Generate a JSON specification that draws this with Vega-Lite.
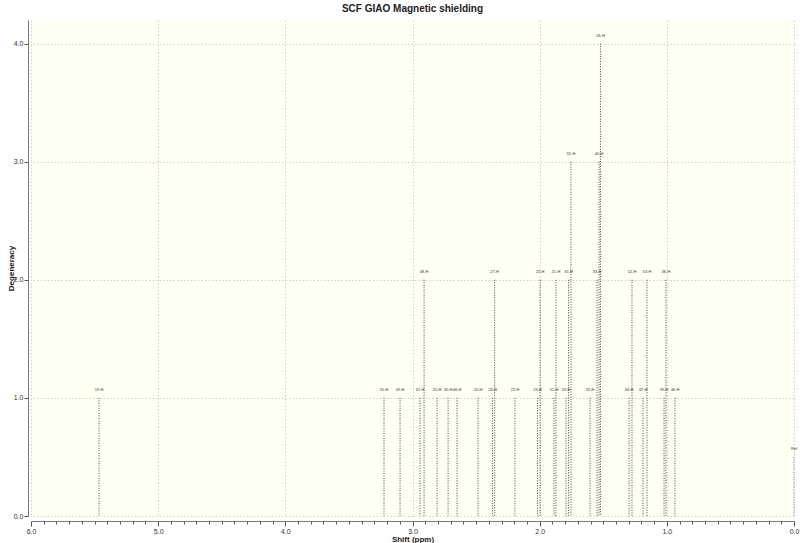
{
  "$schema": "https://vega.github.io/schema/vega-lite/v6.json",
  "width": 763,
  "height": 496,
  "autosize": {"type": "none"},
  "padding": {"left": 31, "top": 20, "right": 6, "bottom": 27},
  "background": "white",
  "title": {"text": "SCF GIAO Magnetic shielding", "fontSize": 10, "font": "Liberation Sans", "fontWeight": "bold", "offset": 6, "color": "#222"},
  "config": {"view": {"fill": "#fffff2", "stroke": null}, "font": "Liberation Sans"},
  "data": {"values": [
    {"label": "19-H", "ppm": 5.465, "deg": 1, "kind": "H"},
    {"label": "50-H", "ppm": 3.224, "deg": 1, "kind": "H"},
    {"label": "49-H", "ppm": 3.098, "deg": 1, "kind": "H"},
    {"label": "47-H", "ppm": 2.941, "deg": 1, "kind": "H"},
    {"label": "48-H", "ppm": 2.909, "deg": 2, "kind": "H"},
    {"label": "25-H", "ppm": 2.807, "deg": 1, "kind": "H"},
    {"label": "30-H", "ppm": 2.72, "deg": 1, "kind": "H"},
    {"label": "46-H", "ppm": 2.65, "deg": 1, "kind": "H"},
    {"label": "20-H", "ppm": 2.485, "deg": 1, "kind": "H"},
    {"label": "28-H", "ppm": 2.371, "deg": 1, "kind": "H"},
    {"label": "27-H", "ppm": 2.354, "deg": 2, "kind": "H"},
    {"label": "22-H", "ppm": 2.194, "deg": 1, "kind": "H"},
    {"label": "24-H", "ppm": 2.017, "deg": 1, "kind": "H"},
    {"label": "23-H", "ppm": 1.997, "deg": 2, "kind": "H"},
    {"label": "51-H", "ppm": 1.887, "deg": 1, "kind": "H"},
    {"label": "21-H", "ppm": 1.872, "deg": 2, "kind": "H"},
    {"label": "29-H", "ppm": 1.793, "deg": 1, "kind": "H"},
    {"label": "31-H", "ppm": 1.773, "deg": 2, "kind": "H"},
    {"label": "32-H", "ppm": 1.754, "deg": 3, "kind": "H"},
    {"label": "35-H", "ppm": 1.604, "deg": 1, "kind": "H"},
    {"label": "33-H", "ppm": 1.549, "deg": 2, "kind": "H"},
    {"label": "40-H", "ppm": 1.533, "deg": 3, "kind": "H"},
    {"label": "26-H", "ppm": 1.522, "deg": 4, "kind": "H"},
    {"label": "34-H", "ppm": 1.297, "deg": 1, "kind": "H"},
    {"label": "52-H", "ppm": 1.274, "deg": 2, "kind": "H"},
    {"label": "37-H", "ppm": 1.187, "deg": 1, "kind": "H"},
    {"label": "53-H", "ppm": 1.156, "deg": 2, "kind": "H"},
    {"label": "39-H", "ppm": 1.022, "deg": 1, "kind": "H"},
    {"label": "38-H", "ppm": 1.007, "deg": 2, "kind": "H"},
    {"label": "36-H", "ppm": 0.936, "deg": 1, "kind": "H"},
    {"label": "Ref", "ppm": 0.0, "deg": 0.5, "kind": "Ref"}
  ]},
  "encoding": {
    "x": {
      "field": "ppm", "type": "quantitative",
      "scale": {"domain": [0, 6], "reverse": true, "nice": false, "zero": false},
      "axis": {
        "title": "Shift (ppm)",
        "values": [0, 0.1, 0.2, 0.3, 0.4, 0.5, 0.6, 0.7, 0.8, 0.9, 1, 1.1, 1.2, 1.3, 1.4, 1.5, 1.6, 1.7, 1.8, 1.9, 2, 2.1, 2.2, 2.3, 2.4, 2.5, 2.6, 2.7, 2.8, 2.9, 3, 3.1, 3.2, 3.3, 3.4, 3.5, 3.6, 3.7, 3.8, 3.9, 4, 4.1, 4.2, 4.3, 4.4, 4.5, 4.6, 4.7, 4.8, 4.9, 5, 5.1, 5.2, 5.3, 5.4, 5.5, 5.6, 5.7, 5.8, 5.9, 6],
        "labelExpr": "datum.value % 1 === 0 ? format(datum.value, '.1f') : ''",
        "labelOverlap": false,
        "labelFontSize": 7,
        "labelColor": "#333",
        "labelPadding": 1,
        "labelFlush": false,
        "tickSize": {"condition": {"test": "datum.value % 1 === 0", "value": 5}, "value": 3},
        "tickColor": "#555",
        "domainColor": "#777",
        "offset": 5,
        "grid": true,
        "gridOpacity": {"condition": {"test": "datum.value % 1 === 0", "value": 1}, "value": 0},
        "gridColor": "#cfcfc6",
        "gridDash": [1.5, 2],
        "titleFontSize": 8,
        "titleFontWeight": "bold",
        "titleColor": "#222",
        "titlePadding": 1
      }
    }
  },
  "layer": [
    {
      "mark": {"type": "rule", "strokeDash": [1, 1.5], "strokeWidth": 1},
      "encoding": {
        "y": {
          "field": "deg", "type": "quantitative",
          "scale": {"domain": [0, 4.2], "nice": false},
          "axis": {
            "title": "Degeneracy",
            "values": [0, 1, 2, 3, 4],
            "format": ".1f",
            "labelFontSize": 7,
            "labelColor": "#333",
            "labelPadding": 1,
            "tickSize": 4,
            "tickColor": "#555",
            "domainColor": "#777",
            "offset": 3,
            "grid": true,
            "gridColor": "#cfcfc6",
            "gridDash": [1.5, 2],
            "titleFontSize": 8,
            "titleFontWeight": "bold",
            "titleColor": "#222",
            "titlePadding": -2
          }
        },
        "y2": {"datum": 0},
        "color": {"field": "kind", "type": "nominal", "scale": {"domain": ["H", "Ref"], "range": ["#444444", "#7a7aff"]}, "legend": null}
      }
    },
    {
      "mark": {"type": "text", "fontSize": 4, "dy": -8, "color": "#333"},
      "encoding": {
        "y": {"field": "deg", "type": "quantitative"},
        "text": {"field": "label"}
      }
    }
  ]
}
